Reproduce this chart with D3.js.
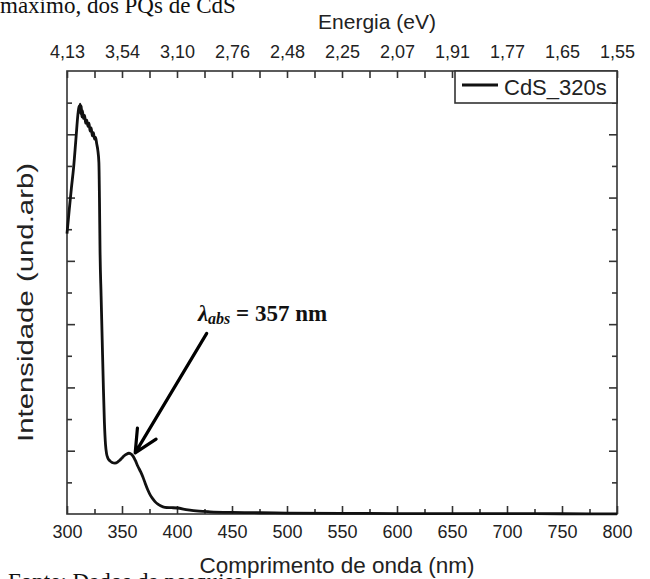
<!DOCTYPE html>
<html>
<head>
<meta charset="utf-8">
<script src="https://cdn.jsdelivr.net/npm/d3@7"></script>
<style>
  body { margin: 0; background: #fff; }
  svg { display: block; }
  .sans { font-family: Arial, "Liberation Sans", sans-serif; fill: #222; }
  .serif { font-family: "Times New Roman", "Liberation Serif", serif; fill: #111; }
</style>
</head>
<body>
<script>
// spectrum
var wavelength = [300, 302, 304, 306, 308, 310, 311, 311.5, 312, 312.5, 313, 313.5, 314, 315, 316, 317, 318, 319, 320, 321, 322, 323, 324, 325, 326, 327, 328, 329, 329.5, 330, 331, 332, 333, 334, 335, 336, 337, 339, 341, 343.6, 346, 348, 350, 352, 354, 356.3, 358, 360, 362, 364.4, 367, 369, 371, 373.5, 376, 378, 380, 382.6, 385, 389, 395, 400, 410, 420, 430, 450, 475, 500, 550, 600, 650, 700, 750, 800];
var intensity = [0.886, 0.96, 1.03, 1.095, 1.18, 1.265, 1.29, 1.27, 1.295, 1.265, 1.29, 1.255, 1.275, 1.25, 1.26, 1.235, 1.245, 1.225, 1.235, 1.21, 1.22, 1.195, 1.205, 1.185, 1.19, 1.17, 1.15, 1.11, 1.0, 0.84, 0.69, 0.55, 0.41, 0.29, 0.22, 0.19, 0.178, 0.168, 0.163, 0.161, 0.164, 0.170, 0.177, 0.184, 0.189, 0.192, 0.190, 0.183, 0.170, 0.151, 0.133, 0.117, 0.098, 0.076, 0.058, 0.048, 0.039, 0.031, 0.026, 0.021, 0.020, 0.019, 0.013, 0.009, 0.007, 0.005, 0.004, 0.003, 0.002, 0.0015, 0.001, 0.001, 0.0008, 0.0005];

var wavelengthTicks = [300, 350, 400, 450, 500, 550, 600, 650, 700, 750, 800];
var energyLabels = ["4,13", "3,54", "3,10", "2,76", "2,48", "2,25", "2,07", "1,91", "1,77", "1,65", "1,55"];
var seriesName = "CdS_320s";

var width = 650, height = 579;
var margin = { top: 71, right: 33, bottom: 65, left: 67 };
var w = width - margin.left - margin.right,
    h = height - margin.top - margin.bottom;

var svg = d3.select("body").append("svg")
  .attr("width", width)
  .attr("height", height);

// caption fragments cut off by the crop
svg.append("text").attr("class", "serif")
  .attr("x", 0).attr("y", 13)
  .style("font-size", "23px")
  .text("máximo, dos PQs de CdS");
svg.append("text").attr("class", "serif")
  .attr("x", 8).attr("y", 589)
  .style("font-size", "23px")
  .text("Fonte: Dados da pesquisa");

var g = svg.append("g").attr("transform", "translate(" + margin.left + "," + margin.top + ")");

var x = d3.scaleLinear().domain([300, 800]).range([0, w]);
var y = d3.scaleLinear().domain([0, 1.4]).range([h, 0]);

var minorX = d3.range(325, 800, 50);
var majorY = d3.range(0.2, 1.39, 0.2);
var minorY = d3.range(0.1, 1.39, 0.2);

// frame
g.append("rect")
  .attr("width", w).attr("height", h)
  .attr("fill", "none").attr("stroke", "#333").attr("stroke-width", 1.6);

// bottom axis
var bottomAxis = g.append("g")
  .attr("transform", "translate(0," + h + ")")
  .call(d3.axisBottom(x).tickValues(wavelengthTicks).tickSizeInner(-8).tickSizeOuter(0).tickPadding(11));
bottomAxis.append("g").call(d3.axisBottom(x).tickValues(minorX).tickSizeInner(-5).tickSizeOuter(0).tickFormat(""));

// top axis: energy
var topAxis = g.append("g")
  .call(d3.axisTop(x).tickValues(wavelengthTicks).tickFormat(function (d, i) { return energyLabels[i]; })
    .tickSizeInner(-7).tickSizeOuter(0).tickPadding(13));
topAxis.append("g").call(d3.axisTop(x).tickValues(minorX).tickSizeInner(-7).tickSizeOuter(0).tickFormat(""));

// left / right axes, no labels
[0, w].forEach(function (pos, k) {
  var ax = k === 0 ? d3.axisLeft : d3.axisRight;
  var a = g.append("g").attr("transform", "translate(" + pos + ",0)");
  a.call(ax(y).tickValues(majorY).tickSizeInner(-8).tickSizeOuter(0).tickFormat(""));
  a.append("g").call(ax(y).tickValues(minorY).tickSizeInner(-5).tickSizeOuter(0).tickFormat(""));
});

g.selectAll(".domain").remove();
g.selectAll(".tick line").attr("stroke", "#333").attr("stroke-width", 1.6);
g.selectAll(".tick text")
  .attr("class", "sans")
  .attr("fill", "#222")
  .style("font-size", "18px");

// axis titles
g.append("text").attr("class", "sans")
  .attr("x", w / 2 - 5).attr("y", h + 59)
  .attr("text-anchor", "middle")
  .style("font-size", "22.5px")
  .text("Comprimento de onda (nm)");

g.append("text").attr("class", "sans")
  .attr("x", w / 2 + 35).attr("y", -42)
  .attr("text-anchor", "middle")
  .style("font-size", "21px")
  .text("Energia (eV)");

g.append("text").attr("class", "sans")
  .attr("transform", "rotate(-90)")
  .attr("x", -231.5 - 139.5).attr("y", -34)
  .attr("textLength", 279)
  .attr("lengthAdjust", "spacingAndGlyphs")
  .style("font-size", "22px")
  .text("Intensidade (und.arb)");

// spectrum
var line = d3.line()
  .x(function (d, i) { return x(wavelength[i]); })
  .y(function (d) { return y(d); })
  .curve(d3.curveMonotoneX);

g.append("path")
  .datum(intensity)
  .attr("d", line)
  .attr("fill", "none")
  .attr("stroke", "#111")
  .attr("stroke-width", 2.8)
  .attr("stroke-linejoin", "round");

// annotation
var tip = [x(362), y(0.193)], tail = [x(427), y(0.571)];
var ang = Math.atan2(tail[1] - tip[1], tail[0] - tip[0]);
function wing(da) {
  return [tip[0] + 25 * Math.cos(ang + da), tip[1] + 25 * Math.sin(ang + da)];
}
var w1 = wing(0.45), w2 = wing(-0.45);
g.append("path")
  .attr("d", "M" + tail + "L" + tip + "M" + w1 + "L" + tip + "L" + w2)
  .attr("fill", "none").attr("stroke", "#000").attr("stroke-width", 3.2)
  .attr("stroke-linecap", "round").attr("stroke-linejoin", "round");

var lab = g.append("text").attr("class", "serif")
  .attr("x", x(419)).attr("y", y(0.609))
  .style("font-size", "23px").style("font-weight", "bold");
lab.append("tspan").style("font-style", "italic").text("λ");
lab.append("tspan").style("font-style", "italic").style("font-size", "16px").attr("dy", 3).text("abs");
lab.append("tspan").attr("dy", -3).text(" = 357 nm");

// legend
var lg = g.append("g").attr("transform", "translate(" + (w - 162) + ",0)");
lg.append("rect").attr("width", 162).attr("height", 32)
  .attr("fill", "#fff").attr("stroke", "#333").attr("stroke-width", 1.6);
lg.append("line").attr("x1", 7).attr("x2", 43).attr("y1", 14).attr("y2", 14)
  .attr("stroke", "#111").attr("stroke-width", 2.8);
lg.append("text").attr("class", "sans")
  .attr("x", 49).attr("y", 24)
  .style("font-size", "22px")
  .text(seriesName);
</script>
</body>
</html>
